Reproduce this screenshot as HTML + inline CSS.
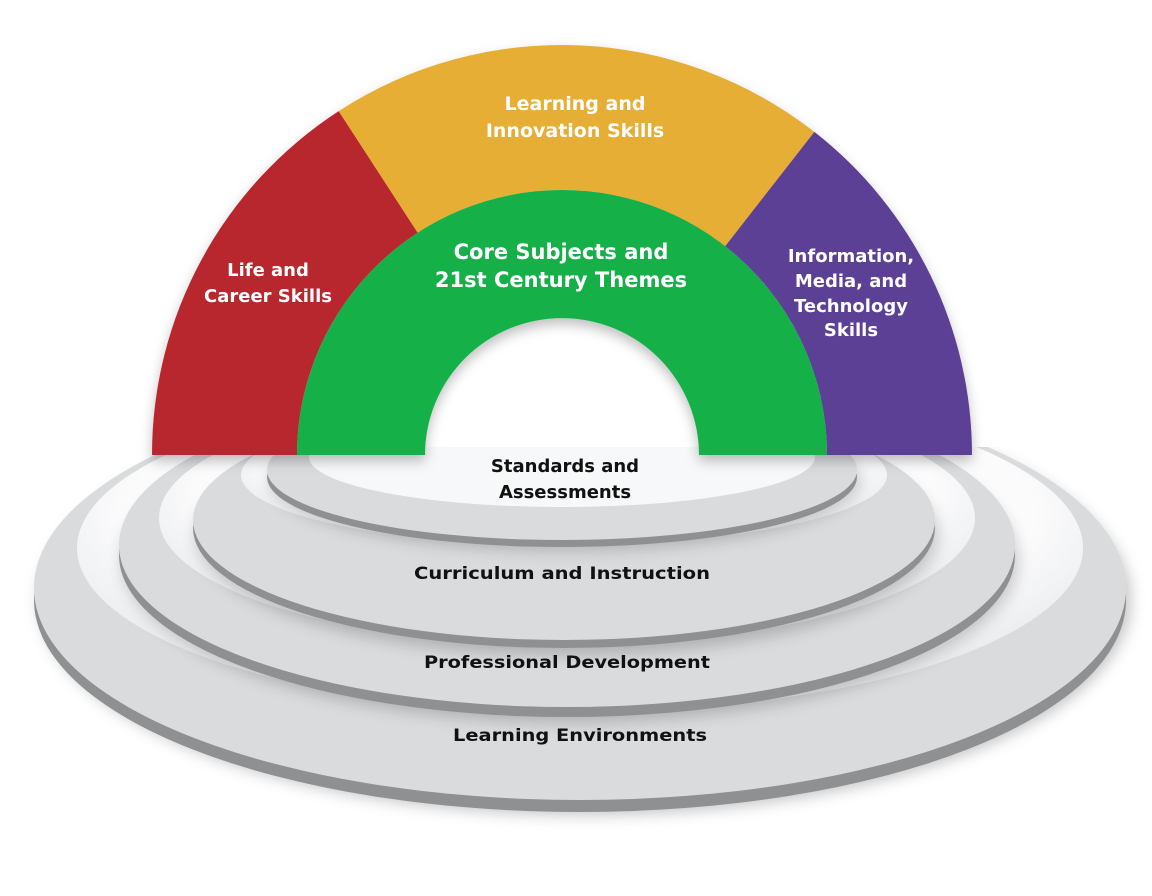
<!DOCTYPE html>
<html><head><meta charset="utf-8"><style>
html,body{margin:0;padding:0;background:#fff;}
svg{display:block;}
text{font-family:"DejaVu Sans","Liberation Sans",sans-serif;font-weight:bold;}
</style></head><body>
<svg width="1152" height="896" viewBox="0 0 1152 896" xmlns="http://www.w3.org/2000/svg">
<defs>
<filter id="blur" x="-20%" y="-20%" width="140%" height="140%"><feGaussianBlur stdDeviation="8"/></filter>
<filter id="ds" x="-10%" y="-10%" width="120%" height="130%"><feDropShadow dx="0" dy="6" stdDeviation="6" flood-color="#000" flood-opacity="0.25"/></filter>
<clipPath id="below"><rect x="0" y="447" width="1152" height="449"/></clipPath>
<radialGradient id="hole" cx="50%" cy="40%" r="60%"><stop offset="0.75" stop-color="#fbfbfc"/><stop offset="1" stop-color="#e6e8ea"/></radialGradient>
</defs>
<g clip-path="url(#below)">
 <ellipse cx="585" cy="600" rx="545" ry="214" fill="#000" opacity="0.25" filter="url(#blur)"/>
 <!-- ring 4 -->
 <ellipse cx="580" cy="600" rx="546" ry="212" fill="#8e9092"/>
 <ellipse cx="580" cy="588" rx="546" ry="212" fill="#d9dbdd"/>
 <ellipse cx="580" cy="548" rx="503" ry="164" fill="url(#hole)"/>
 <!-- ring 3 -->
 <ellipse cx="570" cy="560" rx="448" ry="162" fill="#000" opacity="0.2" filter="url(#blur)"/>
 <ellipse cx="567" cy="555" rx="448" ry="162" fill="#8e9092"/>
 <ellipse cx="567" cy="545" rx="448" ry="162" fill="#d9dbdd"/>
 <ellipse cx="567" cy="518" rx="408" ry="127" fill="url(#hole)"/>
 <!-- ring 2 -->
 <ellipse cx="567" cy="535" rx="371" ry="120" fill="#000" opacity="0.2" filter="url(#blur)"/>
 <ellipse cx="564" cy="528" rx="371" ry="120" fill="#8e9092"/>
 <ellipse cx="564" cy="520" rx="371" ry="120" fill="#d9dbdd"/>
 <ellipse cx="564" cy="475" rx="323" ry="70" fill="url(#hole)"/>
 <!-- ring 1 -->
 <ellipse cx="565" cy="480" rx="295" ry="70" fill="#000" opacity="0.2" filter="url(#blur)"/>
 <ellipse cx="562" cy="477" rx="295" ry="70" fill="#8e9092"/>
 <ellipse cx="562" cy="470" rx="295" ry="70" fill="#d9dbdd"/>
 <ellipse cx="562" cy="457" rx="253" ry="50" fill="#f7f8f9"/>
</g>
<!-- arch -->
<g filter="url(#ds)">
<path d="M152,455 A410 410 0 0 1 338.7,111.1 L417.7,232.7 A265 265 0 0 0 297,455 Z" fill="#b8282f"/>
<path d="M338.7,111.1 A410 410 0 0 1 814.4,131.9 L725.2,246.2 A265 265 0 0 0 417.7,232.7 Z" fill="#e6ae34"/>
<path d="M814.4,131.9 A410 410 0 0 1 972,455 L827,455 A265 265 0 0 0 725.2,246.2 Z" fill="#5b3f96"/>
<path d="M297,455 A265 265 0 0 1 827,455 L699,455 A137 137 0 0 0 425,455 Z" fill="#12b04a"/>
</g>
<g fill="#fff" text-anchor="middle">
<text x="575" y="110" font-size="19">Learning and</text>
<text x="575" y="137" font-size="19">Innovation Skills</text>
<text x="268" y="276" font-size="18">Life and</text>
<text x="268" y="302" font-size="18">Career Skills</text>
<text x="561" y="259" font-size="21">Core Subjects and</text>
<text x="561" y="287" font-size="21">21st Century Themes</text>
<text x="851" y="262" font-size="18">Information,</text>
<text x="851" y="287" font-size="18">Media, and</text>
<text x="851" y="312" font-size="18">Technology</text>
<text x="851" y="336" font-size="18">Skills</text>
</g>
<g fill="#111" text-anchor="middle">
<text x="565" y="472" font-size="18">Standards and</text>
<text x="565" y="498" font-size="18">Assessments</text>
<text x="562" y="579" font-size="17" textLength="296" lengthAdjust="spacingAndGlyphs">Curriculum and Instruction</text>
<text x="567" y="668" font-size="17" textLength="286" lengthAdjust="spacingAndGlyphs">Professional Development</text>
<text x="580" y="741" font-size="17" textLength="254" lengthAdjust="spacingAndGlyphs">Learning Environments</text>
</g>
</svg>
</body></html>
